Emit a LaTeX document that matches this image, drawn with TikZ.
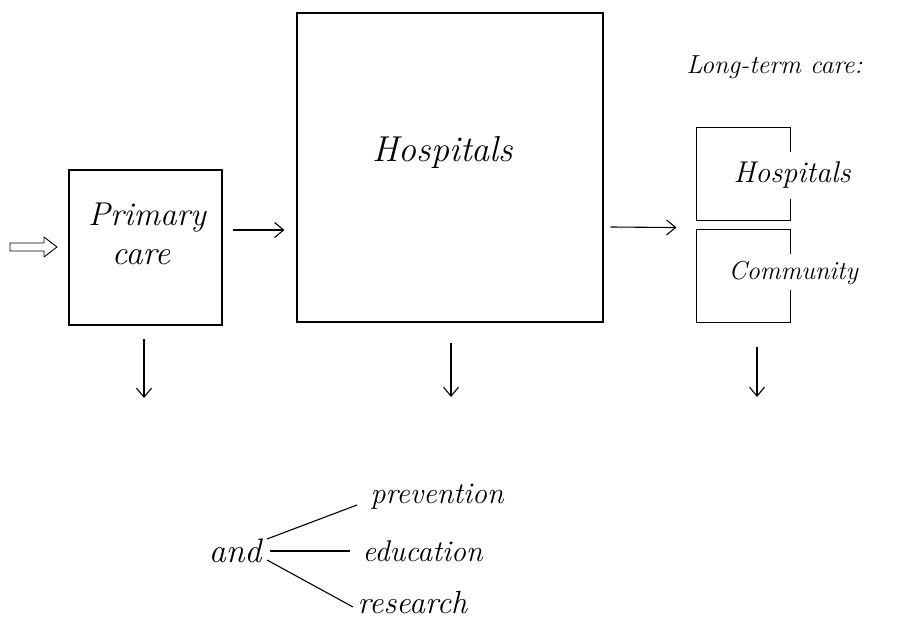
\documentclass[tikz,border=0pt]{standalone}
\usepackage{tikz}
\usetikzlibrary{
        arrows.meta,
        positioning
    }
\tikzset{>={Straight Barb[length=9pt,width=15pt]},auto,node distance=9pt}
\tikzset{box/.style={draw,rectangle,inner sep=0pt}}
\tikzset{ltbox/.style={rectangle,minimum width=93pt,minimum height=92pt,inner sep=0pt}}
\tikzset{hand/.style={inner sep=0pt,font=\itshape\fontsize{#1}{#1}\selectfont}}

\begin{document}
\begin{tikzpicture}[x=1pt,y=1pt,line width=1.1pt]
            \useasboundingbox (0,0) rectangle (897,619);
                % boxes
                \node[box,minimum width=153pt,minimum height=155pt] (primary) at (145.5,371.5) {};
                \node[box,minimum width=306pt,minimum height=309pt] (hosp) at (450,451.5) {};
                \node[ltbox] (lthosp) at (743.5,445) {};
                \node[ltbox,below=of lthosp] (ltcomm) {};
                \draw ([yshift=-25pt]lthosp.north east) -- (lthosp.north east) -- (lthosp.north west)
                    -- (lthosp.south west) -- (lthosp.south east) -- ++(0,22);
                \draw ([yshift=-24pt]ltcomm.north east) -- (ltcomm.north east) -- (ltcomm.north west)
                    -- (ltcomm.south west) -- (ltcomm.south east) -- ++(0,33);
                % texts
                \node[hand=33] (primarytxt) at (147,401) {Primary};
                \node[hand=34] (caretxt) at (141,362) {care};
                \node[hand=36] (hosptxt) at (443,466) {Hospitals};
                \node[hand=26,anchor=west] (lttitle) at (686,552) {Long-term care:};
                \node[hand=30,anchor=west] (lthosptxt) at (733,444) {Hospitals};
                \node[hand=26,anchor=west] (ltcommtxt) at (728,346) {Community};
                \node[hand=34,anchor=east] (and) at (262,68) {and};
                \node[hand=30,anchor=west] (prev) at (370,122) {prevention};
                \node[hand=30,anchor=west] (educ) at (362,68) {education};
                \node[hand=32,anchor=west] (res) at (357,16) {research};
                % free ends
                \coordinate (input) at (10,372);
                \coordinate (primaryout) at (144,221);
                \coordinate (hospout) at (451,222);
                \coordinate (ltout) at (757,222);
                % arrows
                \draw[line width=0.9pt,line join=round] (input) ++(0,4) -- ++(34,0) -- ++(0,6) -- ++(13,-10)
                    -- ++(-13,-10) -- ++(0,6) -- ++(-34,0) -- cycle;
                \draw[->] ([xshift=10pt,yshift=17.5pt]primary.east) -- ([xshift=-12pt,yshift=-62.5pt]hosp.west);
                \draw[->] ([xshift=7pt,yshift=-59.5pt]hosp.east) -- ([xshift=-20pt,yshift=2pt]ltcomm.north west);
                \draw[->,shorten <=13pt] (primaryout |- primary.south) -- (primaryout);
                \draw[->,shorten <=20pt] (hospout |- hosp.south) -- (hospout);
                \draw[->,shorten <=24pt] (ltout |- ltcomm.south) -- (ltout);
                % and ...
                \draw ([xshift=5pt,yshift=12pt]and.east) -- ([xshift=-13pt,yshift=-8pt]prev.west);
                \draw ([xshift=8pt]and.east) -- ([xshift=-12pt]educ.west);
                \draw ([xshift=5pt,yshift=-9pt]and.east) -- ([xshift=-4pt,yshift=-4pt]res.west);
        \end{tikzpicture}
\end{document}
